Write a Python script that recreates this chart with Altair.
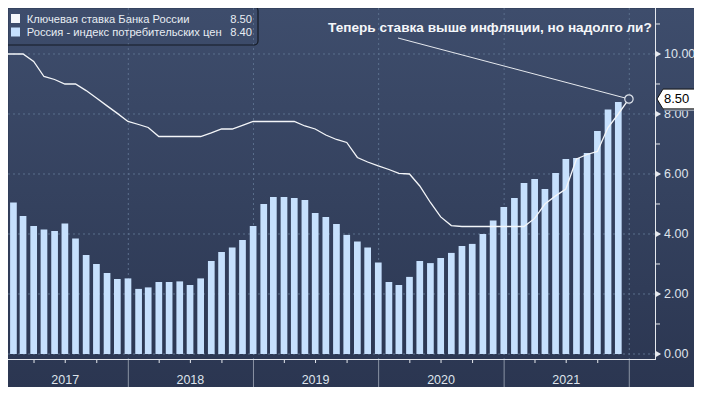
import altair as alt
import pandas as pd

# ---------------- data ----------------
# Russia CPI, % y/y, month-end values, Dec 2016 .. Nov 2021
cpi_first_month_end = "2016-12-31"
cpi_values = [5.4,
              5.05, 4.6, 4.27, 4.15, 4.1, 4.35, 3.85, 3.3, 3.0, 2.7, 2.5, 2.52,
              2.17, 2.22, 2.4, 2.4, 2.42, 2.3, 2.52, 3.1, 3.4, 3.55, 3.8, 4.27,
              5.0, 5.23, 5.23, 5.2, 5.13, 4.7, 4.57, 4.33, 3.97, 3.75, 3.55, 3.05,
              2.4, 2.3, 2.57, 3.1, 3.03, 3.2, 3.37, 3.6, 3.67, 4.0, 4.45, 4.9,
              5.2, 5.7, 5.83, 5.5, 6.03, 6.5, 6.53, 6.7, 7.43, 8.15, 8.40]

# Bank of Russia key rate, %, month-end values, Dec 2016 .. Dec 2021
rate_first_month_end = "2016-12-31"
rate_values = [10.0,
               10.0, 10.0, 9.75, 9.25, 9.15, 9.0, 9.0, 8.78, 8.53, 8.27, 8.02, 7.75,
               7.65, 7.55, 7.25, 7.25, 7.25, 7.25, 7.25, 7.37, 7.5, 7.5, 7.62, 7.75,
               7.75, 7.75, 7.75, 7.75, 7.6, 7.5, 7.3, 7.15, 7.05, 6.55, 6.4, 6.27,
               6.15, 6.02, 6.0, 5.6, 5.05, 4.57, 4.28, 4.25, 4.25, 4.25, 4.25, 4.25,
               4.25, 4.25, 4.52, 5.0, 5.27, 5.5, 6.5, 6.65, 6.75, 7.55, 8.0, 8.5]

series_names = ["Ключевая ставка Банка России", "Россия - индекс потребительских цен"]
annotation_text = "Теперь ставка выше инфляции, но надолго ли?"

y_tick_values = [0, 1, 2, 3, 4, 5, 6, 7, 8, 9, 10, 11]
y_major_values = [0, 2, 4, 6, 8, 10]
label_years = [2017, 2018, 2019, 2020, 2021]
year_starts = ["2018-01-01T00:00:00", "2019-01-01T00:00:00", "2020-01-01T00:00:00",
               "2021-01-01T00:00:00", "2022-01-01T00:00:00"]
quarter_starts = ["2017-04-01T00:00:00", "2017-07-01T00:00:00", "2017-10-01T00:00:00",
                  "2018-04-01T00:00:00", "2018-07-01T00:00:00", "2018-10-01T00:00:00",
                  "2019-04-01T00:00:00", "2019-07-01T00:00:00", "2019-10-01T00:00:00",
                  "2020-04-01T00:00:00", "2020-07-01T00:00:00", "2020-10-01T00:00:00",
                  "2021-04-01T00:00:00", "2021-07-01T00:00:00", "2021-10-01T00:00:00"]

# ---------------- styling ----------------
TOTAL_W, TOTAL_H = 686, 379      # whole chart (fits the page with its 8px margins)
PW, PH = 647, 351                # data rectangle inside the view
BAR_COLOR = "#c6e0fd"
LINE_COLOR = "#f4f6f9"
AXIS_COLOR = "#e6e9ee"
LABEL_COLOR = "#dfe4ec"
GRID_COLOR = "#5b6f8c"
SEP_COLOR = "#8a93a4"
FONT = "Liberation Sans"
series_colors = [LINE_COLOR, BAR_COLOR]

fmt = "%Y-%m-%dT%H:%M:%S"
cpi_dates = pd.date_range(cpi_first_month_end, periods=len(cpi_values), freq=pd.offsets.MonthEnd())
rate_dates = pd.date_range(rate_first_month_end, periods=len(rate_values), freq=pd.offsets.MonthEnd())
cpi_df = pd.DataFrame({"date": cpi_dates.strftime(fmt), "cpi": cpi_values})
rate_df = pd.DataFrame({"date": rate_dates.strftime(fmt), "rate": rate_values})
last_rate_df = rate_df.tail(1).reset_index(drop=True)
one_row = alt.Data(values=[{"k": 0}])

x_scale = alt.Scale(domain=[alt.DateTime(year=2017, month=1, date=29, hours=17),
                            alt.DateTime(year=2022, month=3, date=2, hours=10)],
                    range=[0, PW])
y_scale = alt.Scale(domain=[-0.1667, 11.5333], range=[PH, 0], nice=False, zero=False)

view_gradient = ("{gradient: 'linear', x1: 0, y1: 0, x2: 0, y2: 1, "
                 "stops: [{offset: 0, color: '#3e4d6c'}, {offset: 1, color: '#2b3651'}]}")


def X(field):
    return alt.X(field, scale=x_scale, axis=None)


def Y(field):
    return alt.Y(field, scale=y_scale, axis=None)


# ---------------- grid ----------------
hgrid = alt.Chart(pd.DataFrame({"v": y_major_values})).mark_rule(
    color=GRID_COLOR, strokeDash=[2, 3], strokeWidth=1).encode(
    y=Y("v:Q"), x=alt.value(0), x2=alt.value(PW))

year_df = pd.DataFrame({"d": year_starts})
vgrid = alt.Chart(year_df).mark_rule(
    color=GRID_COLOR, strokeDash=[2, 3], strokeWidth=1).encode(
    x=X("d:T"), y=alt.value(0), y2=alt.value(PH))

# ---------------- series ----------------
bars = alt.Chart(cpi_df).mark_bar(width=6.7, color=BAR_COLOR).encode(
    x=X("date:T"), y=Y("cpi:Q"))

line = alt.Chart(rate_df).mark_line(color=LINE_COLOR, strokeWidth=1.3).encode(
    x=X("date:T"), y=Y("rate:Q"))

# ---------------- bottom time axis (drawn from the x scale) ----------------
x_domain_line = alt.Chart(one_row).mark_rule(color=AXIS_COLOR, strokeWidth=1).encode(
    x=alt.value(0), x2=alt.value(PW), y=alt.value(PH + 0.5), y2=alt.value(PH + 0.5))
quarter_ticks = alt.Chart(pd.DataFrame({"d": quarter_starts})).mark_rule(
    color=AXIS_COLOR, strokeWidth=1).encode(
    x=X("d:T"), y=alt.value(PH), y2=alt.value(PH + 4))
separators = alt.Chart(year_df).mark_rule(color=SEP_COLOR, strokeWidth=1).encode(
    x=X("d:T"), y=alt.value(PH + 1), y2=alt.value(TOTAL_H))
year_label_df = pd.DataFrame({"label": [str(y) for y in label_years],
                              "mid": [f"{y}-07-01T00:00:00" for y in label_years]})
year_labels = alt.Chart(year_label_df).mark_text(
    align="center", baseline="middle", fontSize=12.5, font=FONT, color=LABEL_COLOR).encode(
    x=X("mid:T"), y=alt.value(PH + 21), text="label:N")

# ---------------- right value axis (drawn from the y scale) ----------------
y_domain_line = alt.Chart(one_row).mark_rule(color=AXIS_COLOR, strokeWidth=1).encode(
    x=alt.value(PW + 0.5), x2=alt.value(PW + 0.5), y=alt.value(0), y2=alt.value(PH + 1))
y_ticks = alt.Chart(pd.DataFrame({"v": y_tick_values})).mark_rule(
    color=AXIS_COLOR, strokeWidth=1).encode(
    y=Y("v:Q"), x=alt.value(PW), x2=alt.value(PW + 5))
y_arrows = alt.Chart(pd.DataFrame({"v": y_major_values})).mark_point(
    shape="triangle-right", size=36, filled=True, color=AXIS_COLOR, opacity=1).encode(
    x=alt.value(PW + 3.5), y=Y("v:Q"))
y_labels = alt.Chart(pd.DataFrame({"v": y_major_values})).mark_text(
    align="left", baseline="middle", fontSize=12.5, font=FONT, color=LABEL_COLOR).encode(
    x=alt.value(PW + 9), y=Y("v:Q"), text=alt.Text("v:Q", format=".2f"))

# ---------------- annotation and last-value tag ----------------
leader = alt.Chart(last_rate_df).mark_rule(color=AXIS_COLOR, strokeWidth=1).encode(
    x=X("date:T"), y=Y("rate:Q"), x2=alt.value(390), y2=alt.value(30))

end_circle = alt.Chart(last_rate_df).mark_point(
    shape="circle", filled=True, fill="#3a4866", stroke="#dfe4ec", strokeWidth=1.2,
    size=70, opacity=1).encode(x=X("date:T"), y=Y("rate:Q"))

annotation = alt.Chart(one_row).mark_text(
    text=annotation_text, align="left", baseline="middle", fontSize=13.6,
    fontWeight="bold", font=FONT, color="#f5f7fa").encode(
    x=alt.value(320), y=alt.value(20))

TAG_PATH = "M-1,0L-0.74,-0.43L1,-0.43L1,0.43L-0.74,0.43Z"
tag_shadow = alt.Chart(last_rate_df).mark_point(
    shape=TAG_PATH, size=2116, filled=True, fill="#8f98a8", strokeWidth=0,
    opacity=1, xOffset=2, yOffset=2).encode(x=alt.value(672), y=Y("rate:Q"))
tag = alt.Chart(last_rate_df).mark_point(
    shape=TAG_PATH, size=2116, filled=True, fill="#ffffff", stroke="#111111",
    strokeWidth=1, opacity=1).encode(x=alt.value(672), y=Y("rate:Q"))
tag_text = alt.Chart(last_rate_df).mark_text(
    align="left", baseline="middle", fontSize=13, font=FONT, color="#000000").encode(
    x=alt.value(656), y=Y("rate:Q"), text=alt.Text("rate:Q", format=".2f"))

# ---------------- legend ----------------
legend_box = alt.Chart(one_row).mark_rect(
    cornerRadius=4, fillOpacity=0, stroke="#141a24", strokeWidth=1.2).encode(
    x=alt.value(-5), x2=alt.value(250), y=alt.value(-1.3), y2=alt.value(37))

legend_layers = []
last_values = [rate_values[-1], cpi_values[-1]]
for i, (name, col, val) in enumerate(zip(series_names, series_colors, last_values)):
    row_y = 11.5 + 13.5 * i
    legend_layers.append(alt.Chart(one_row).mark_square(
        size=81, filled=True, color=col, opacity=1).encode(
        x=alt.value(7.5), y=alt.value(row_y - 1)))
    legend_layers.append(alt.Chart(one_row).mark_text(
        text=name, align="left", baseline="middle", fontSize=11.2, font=FONT,
        color="#e8edf3").encode(x=alt.value(18.7), y=alt.value(row_y)))
    legend_layers.append(alt.Chart(one_row).mark_text(
        text=f"{val:.2f}", align="right", baseline="middle", fontSize=11.2, font=FONT,
        color="#e8edf3").encode(x=alt.value(244), y=alt.value(row_y)))

chart = alt.layer(
    hgrid, vgrid, bars, line,
    x_domain_line, quarter_ticks, separators, year_labels,
    y_domain_line, y_ticks, y_arrows, y_labels,
    leader, end_circle, annotation, tag_shadow, tag, tag_text,
    legend_box, *legend_layers
).properties(
    width=TOTAL_W, height=TOTAL_H,
    padding={"left": 0, "top": 0, "right": 0, "bottom": 0},
    autosize=alt.AutoSizeParams(type="none"),
    background="#2c3853",
    view=alt.ViewBackground(fill=alt.ExprRef(expr=view_gradient), strokeOpacity=0),
).configure(font=FONT)

chart.save("out.html", embed_options={"renderer": "svg", "actions": False})
